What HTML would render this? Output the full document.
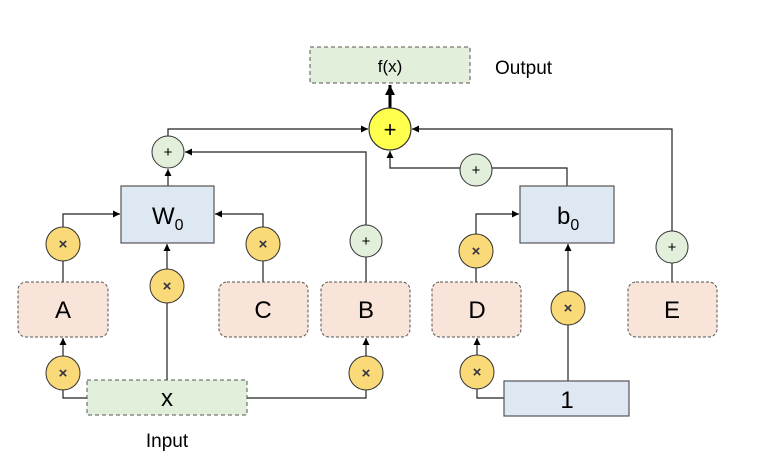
<!DOCTYPE html>
<html><head><meta charset="utf-8"><style>body{margin:0;background:#fff}</style></head><body>
<svg width="758" height="466" viewBox="0 0 758 466" xmlns="http://www.w3.org/2000/svg" font-family="Liberation Sans, sans-serif">
<defs>
<marker id="a" viewBox="0 0 10 10" refX="10" refY="5" markerWidth="7" markerHeight="7" orient="auto-start-reverse" markerUnits="userSpaceOnUse"><path d="M0,0L10,5L0,10z" fill="#000"/></marker>
<marker id="b" viewBox="0 0 10 10" refX="10" refY="5" markerWidth="10" markerHeight="10" orient="auto" markerUnits="userSpaceOnUse"><path d="M0,0L10,5L0,10z" fill="#000"/></marker>
</defs>
<g fill="none" stroke="#222" stroke-width="1.2">
<path d="M168,136V129H368" marker-end="url(#a)"/>
<path d="M366,225V152H185" marker-end="url(#a)"/>
<path d="M168,186V169" marker-end="url(#a)"/>
<path d="M63,227V214H120" marker-end="url(#a)"/>
<path d="M263,227V214H215" marker-end="url(#a)"/>
<path d="M167,269V244" marker-end="url(#a)"/>
<path d="M167,303V380"/>
<path d="M63,261V282"/><path d="M263,261V282"/><path d="M366,257V282"/>
<path d="M63,356V338" marker-end="url(#a)"/>
<path d="M63,390V398H87"/>
<path d="M247,398H366V390"/>
<path d="M366,356V338" marker-end="url(#a)"/>
<path d="M567,186V168H492"/>
<path d="M460,168H390V151" marker-end="url(#a)"/>
<path d="M476,234V214H519" marker-end="url(#a)"/>
<path d="M476,268V282"/>
<path d="M477,355V338" marker-end="url(#a)"/>
<path d="M477,389V398H504"/>
<path d="M568,291V244" marker-end="url(#a)"/>
<path d="M568,325V381"/>
<path d="M672,231V129H412" marker-end="url(#a)"/>
<path d="M672,263V282"/>
</g>
<path d="M390,108V85" stroke="#000" stroke-width="3" marker-end="url(#b)"/>
<!-- boxes -->
<rect x="310" y="47" width="160" height="36" fill="#e2efda" stroke="#555" stroke-dasharray="4,3"/>
<text x="390" y="72" font-size="17" text-anchor="middle">f(x)</text>
<text x="495" y="74" font-size="19">Output</text>
<rect x="121" y="186" width="93" height="57" fill="#dee8f3" stroke="#555" stroke-width="1.2"/>
<text x="152" y="224" font-size="24">W<tspan font-size="16" dy="6">0</tspan></text>
<rect x="520" y="186" width="94" height="57" fill="#dee8f3" stroke="#555" stroke-width="1.2"/>
<text x="557" y="224" font-size="24">b<tspan font-size="16" dy="6">0</tspan></text>
<g fill="#f8e4d8" stroke="#555" stroke-dasharray="3,2">
<rect x="18" y="282" width="90" height="55" rx="8"/>
<rect x="219" y="282" width="89" height="55" rx="8"/>
<rect x="321" y="282" width="89" height="55" rx="8"/>
<rect x="432" y="282" width="89" height="55" rx="8"/>
<rect x="628" y="282" width="89" height="55" rx="8"/>
</g>
<g font-size="24" text-anchor="middle">
<text x="63" y="318">A</text><text x="263" y="318">C</text><text x="366" y="318">B</text><text x="477" y="318">D</text><text x="672" y="318">E</text>
</g>
<rect x="87" y="380" width="160" height="35" fill="#e2efda" stroke="#555" stroke-dasharray="4,3"/>
<text x="167" y="406" font-size="24" text-anchor="middle">x</text>
<text x="167" y="447" font-size="19" text-anchor="middle">Input</text>
<rect x="504" y="381" width="125" height="35" fill="#dee8f3" stroke="#555" stroke-width="1.2"/>
<text x="567" y="408" font-size="24" text-anchor="middle">1</text>
<!-- yellow -->
<circle cx="390" cy="129" r="21" fill="#ffff4d" stroke="#333" stroke-width="1.2"/>
<text x="390" y="137" font-size="22" text-anchor="middle">+</text>
<!-- plus circles -->
<g fill="#e2efda" stroke="#333"><circle cx="168" cy="152" r="16"/><circle cx="366" cy="241" r="16"/><circle cx="476" cy="170" r="16"/><circle cx="672" cy="247" r="16"/></g>
<g font-size="15" text-anchor="middle"><text x="168" y="157">+</text><text x="366" y="246">+</text><text x="476" y="175">+</text><text x="672" y="252">+</text></g>
<!-- times circles -->
<g fill="#f9d978" stroke="#333"><circle cx="63" cy="244" r="17"/><circle cx="263" cy="244" r="17"/><circle cx="167" cy="286" r="17"/><circle cx="63" cy="373" r="17"/><circle cx="366" cy="373" r="17"/><circle cx="476" cy="251" r="17"/><circle cx="477" cy="372" r="17"/><circle cx="568" cy="308" r="17"/></g>
<g font-size="15" text-anchor="middle" fill="#334" font-weight="bold"><text x="63" y="249">×</text><text x="263" y="249">×</text><text x="167" y="291">×</text><text x="63" y="378">×</text><text x="366" y="378">×</text><text x="476" y="256">×</text><text x="477" y="377">×</text><text x="568" y="313">×</text></g>
</svg>
</body></html>
